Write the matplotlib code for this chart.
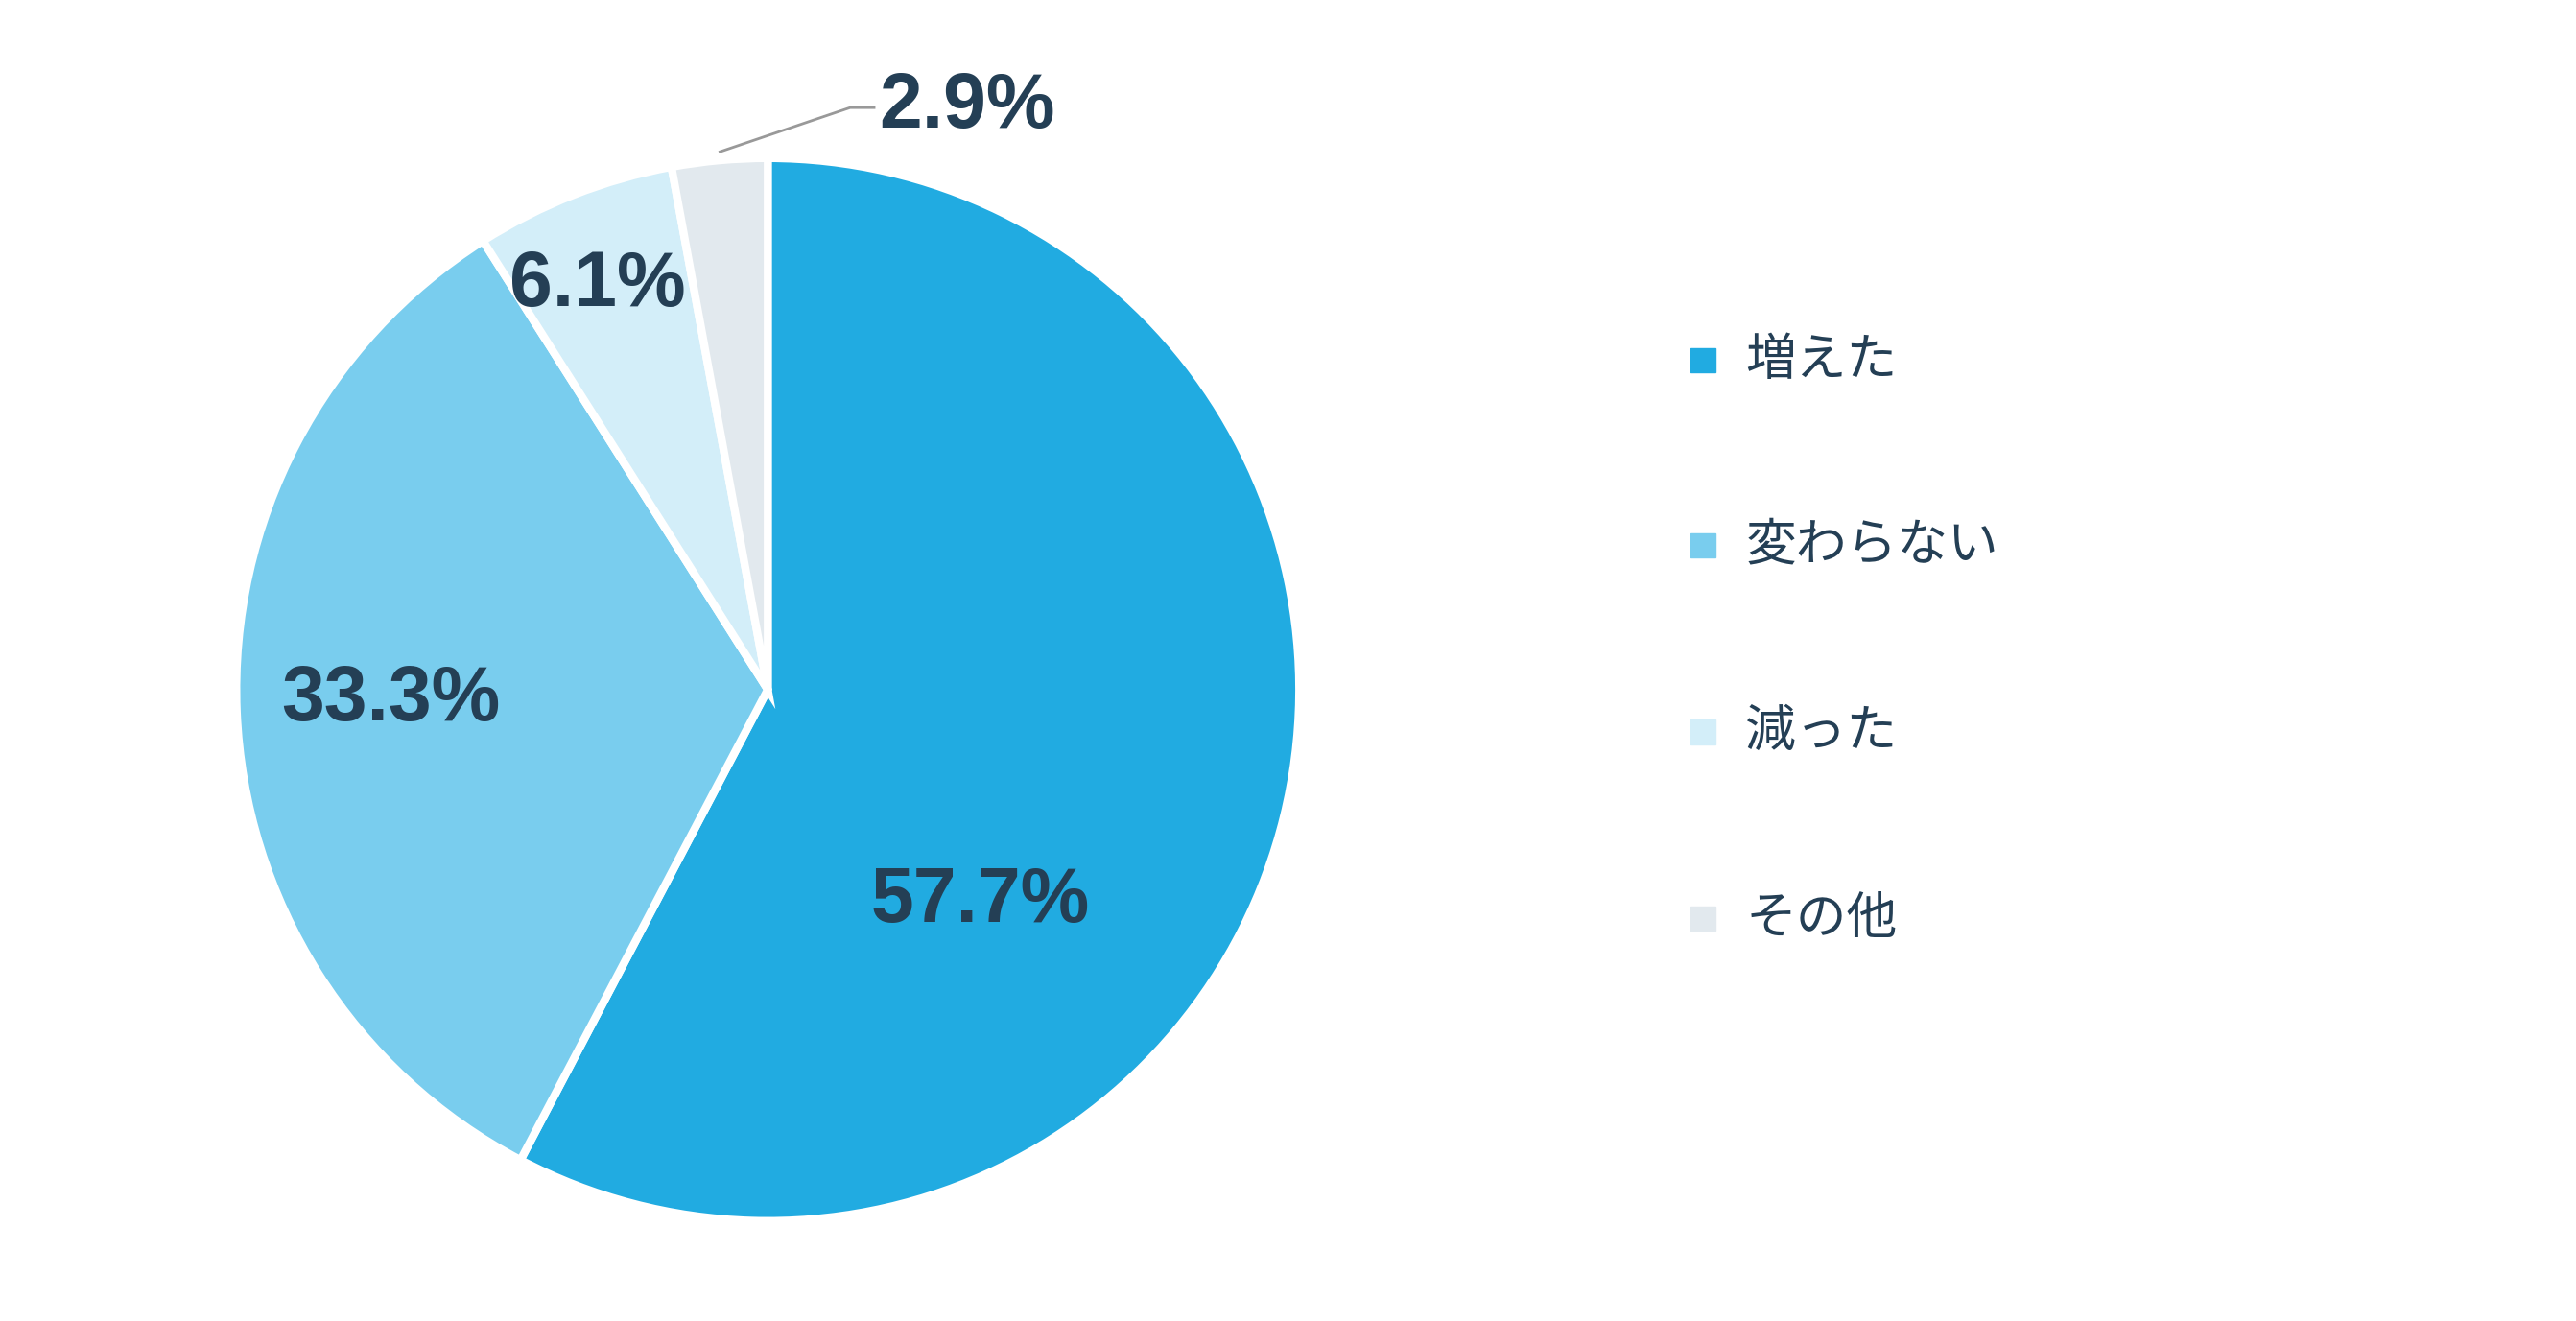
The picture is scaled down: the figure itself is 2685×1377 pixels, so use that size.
import matplotlib
matplotlib.use("Agg")
import matplotlib.pyplot as plt
import numpy as np

categories = ["増えた", "変わらない", "減った", "その他"]
values = [57.7, 33.3, 6.1, 2.9]
colors = ["#21ABE1", "#79CDEE", "#D3EEF9", "#E2E9EE"]
txt = "#243F55"

plt.rcParams['font.family'] = ['Noto Sans CJK JP', 'DejaVu Sans']
fig = plt.figure(figsize=(26.85, 13.77), dpi=100)
ax = fig.add_axes([0.298 - 0.2063, 0.478 - 0.4023, 0.4127, 0.8046])
wedges, _ = ax.pie(values, colors=colors, startangle=90, counterclock=False,
                   wedgeprops=dict(edgecolor="white", linewidth=6))
ax.set_xlim(-1, 1); ax.set_ylim(-1, 1); ax.set_aspect('equal')

lab_pos = [(0.40, -0.40), (-0.71, -0.02), (-0.32, 0.76)]
for (x, y), v in zip(lab_pos, values[:3]):
    ax.text(x, y, f"{v}%", ha="center", va="center", fontsize=58,
            fontweight="bold", family="Liberation Sans", color=txt)
# leader for small slice
ax.plot([-0.09, 0.155, 0.2], [1.012, 1.095, 1.095], color="#999999", lw=2, clip_on=False)
ax.text(0.21, 1.095, f"{values[3]}%", ha="left", va="center", fontsize=58,
        fontweight="bold", family="Liberation Sans", color=txt)

ys = [218, 330, 443, 556]
for y, c, cat in zip(ys, colors, categories):
    fy = 1 - y / 800
    fig.patches.append(plt.Rectangle((1024 / 1560, fy - 0.0095), 0.0095, 0.0095 * 2685 / 1377,
                                     transform=fig.transFigure, color=c, figure=fig))
    fig.text(1057 / 1560, fy, cat, ha="left", va="center", fontsize=38, color=txt)

fig.savefig("out.png", dpi=100)
